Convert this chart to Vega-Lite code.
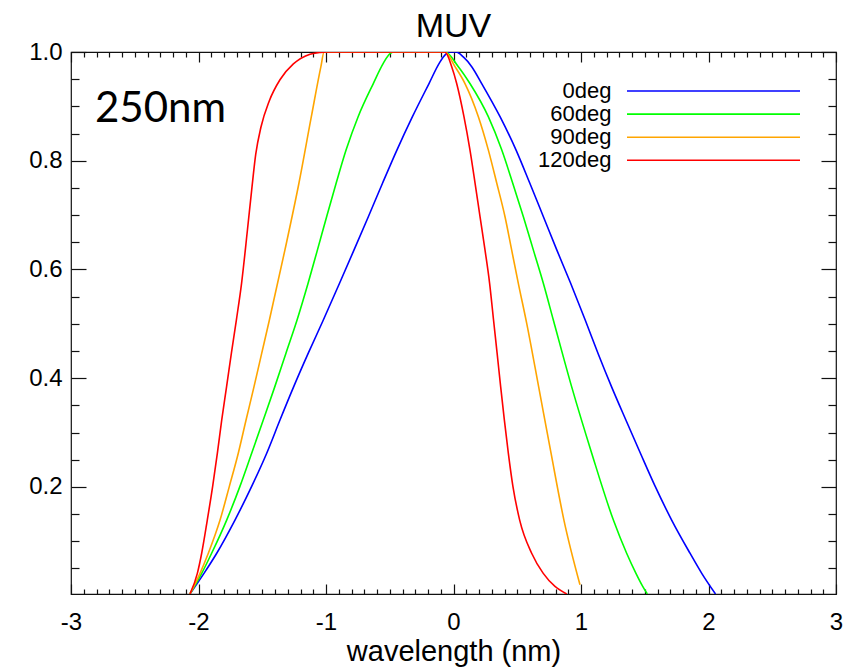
{
  "$schema": "https://vega.github.io/schema/vega-lite/v6.json",
  "width": 765,
  "height": 542,
  "autosize": "none",
  "padding": {"left": 71, "top": 52, "right": 21, "bottom": 73},
  "background": "white",
  "config": {
    "font": "Liberation Sans",
    "view": {"stroke": "#111", "strokeWidth": 1.2},
    "axis": {"grid": false, "domain": false, "tickColor": "#111", "tickWidth": 1.2, "labelColor": "#000", "titleColor": "#000"}
  },
  "title": {"text": "MUV", "fontSize": 34, "font": "Liberation Sans", "fontWeight": "normal", "color": "#000", "anchor": "middle", "offset": -4},
  "data": {"values": [
    {"angle": "0deg", "wl": -2.067, "r": 0.003},
    {"angle": "0deg", "wl": -1.957, "r": 0.041},
    {"angle": "0deg", "wl": -1.857, "r": 0.078},
    {"angle": "0deg", "wl": -1.714, "r": 0.139},
    {"angle": "0deg", "wl": -1.583, "r": 0.201},
    {"angle": "0deg", "wl": -1.465, "r": 0.262},
    {"angle": "0deg", "wl": -1.361, "r": 0.323},
    {"angle": "0deg", "wl": -1.254, "r": 0.384},
    {"angle": "0deg", "wl": -1.139, "r": 0.446},
    {"angle": "0deg", "wl": -1.021, "r": 0.507},
    {"angle": "0deg", "wl": -0.893, "r": 0.575},
    {"angle": "0deg", "wl": -0.780, "r": 0.636},
    {"angle": "0deg", "wl": -0.668, "r": 0.697},
    {"angle": "0deg", "wl": -0.556, "r": 0.759},
    {"angle": "0deg", "wl": -0.443, "r": 0.820},
    {"angle": "0deg", "wl": -0.322, "r": 0.881},
    {"angle": "0deg", "wl": -0.192, "r": 0.942},
    {"angle": "0deg", "wl": -0.110, "r": 0.980},
    {"angle": "0deg", "wl": -0.060, "r": 0.996},
    {"angle": "0deg", "wl": -0.030, "r": 1.0},
    {"angle": "0deg", "wl": 0.020, "r": 1.0},
    {"angle": "0deg", "wl": 0.077, "r": 0.991},
    {"angle": "0deg", "wl": 0.143, "r": 0.973},
    {"angle": "0deg", "wl": 0.221, "r": 0.942},
    {"angle": "0deg", "wl": 0.365, "r": 0.881},
    {"angle": "0deg", "wl": 0.490, "r": 0.820},
    {"angle": "0deg", "wl": 0.598, "r": 0.759},
    {"angle": "0deg", "wl": 0.705, "r": 0.697},
    {"angle": "0deg", "wl": 0.810, "r": 0.636},
    {"angle": "0deg", "wl": 0.918, "r": 0.575},
    {"angle": "0deg", "wl": 1.033, "r": 0.507},
    {"angle": "0deg", "wl": 1.133, "r": 0.446},
    {"angle": "0deg", "wl": 1.240, "r": 0.384},
    {"angle": "0deg", "wl": 1.352, "r": 0.323},
    {"angle": "0deg", "wl": 1.466, "r": 0.262},
    {"angle": "0deg", "wl": 1.582, "r": 0.201},
    {"angle": "0deg", "wl": 1.711, "r": 0.139},
    {"angle": "0deg", "wl": 1.855, "r": 0.078},
    {"angle": "0deg", "wl": 1.947, "r": 0.041},
    {"angle": "0deg", "wl": 2.055, "r": 0.003},
    {"angle": "60deg", "wl": -2.067, "r": 0.003},
    {"angle": "60deg", "wl": -1.975, "r": 0.041},
    {"angle": "60deg", "wl": -1.897, "r": 0.078},
    {"angle": "60deg", "wl": -1.779, "r": 0.139},
    {"angle": "60deg", "wl": -1.675, "r": 0.201},
    {"angle": "60deg", "wl": -1.583, "r": 0.262},
    {"angle": "60deg", "wl": -1.492, "r": 0.323},
    {"angle": "60deg", "wl": -1.402, "r": 0.384},
    {"angle": "60deg", "wl": -1.314, "r": 0.446},
    {"angle": "60deg", "wl": -1.227, "r": 0.507},
    {"angle": "60deg", "wl": -1.140, "r": 0.575},
    {"angle": "60deg", "wl": -1.067, "r": 0.636},
    {"angle": "60deg", "wl": -0.995, "r": 0.697},
    {"angle": "60deg", "wl": -0.920, "r": 0.759},
    {"angle": "60deg", "wl": -0.842, "r": 0.820},
    {"angle": "60deg", "wl": -0.748, "r": 0.881},
    {"angle": "60deg", "wl": -0.629, "r": 0.942},
    {"angle": "60deg", "wl": -0.551, "r": 0.979},
    {"angle": "60deg", "wl": -0.498, "r": 0.997},
    {"angle": "60deg", "wl": -0.460, "r": 1.0},
    {"angle": "60deg", "wl": -0.067, "r": 1.0},
    {"angle": "60deg", "wl": 0.038, "r": 0.973},
    {"angle": "60deg", "wl": 0.129, "r": 0.942},
    {"angle": "60deg", "wl": 0.273, "r": 0.881},
    {"angle": "60deg", "wl": 0.378, "r": 0.820},
    {"angle": "60deg", "wl": 0.464, "r": 0.759},
    {"angle": "60deg", "wl": 0.548, "r": 0.697},
    {"angle": "60deg", "wl": 0.626, "r": 0.636},
    {"angle": "60deg", "wl": 0.704, "r": 0.575},
    {"angle": "60deg", "wl": 0.783, "r": 0.507},
    {"angle": "60deg", "wl": 0.927, "r": 0.384},
    {"angle": "60deg", "wl": 1.084, "r": 0.262},
    {"angle": "60deg", "wl": 1.254, "r": 0.139},
    {"angle": "60deg", "wl": 1.358, "r": 0.078},
    {"angle": "60deg", "wl": 1.431, "r": 0.041},
    {"angle": "60deg", "wl": 1.484, "r": 0.017},
    {"angle": "60deg", "wl": 1.520, "r": 0.003},
    {"angle": "90deg", "wl": -2.067, "r": 0.003},
    {"angle": "90deg", "wl": -1.988, "r": 0.041},
    {"angle": "90deg", "wl": -1.923, "r": 0.078},
    {"angle": "90deg", "wl": -1.831, "r": 0.139},
    {"angle": "90deg", "wl": -1.758, "r": 0.201},
    {"angle": "90deg", "wl": -1.688, "r": 0.262},
    {"angle": "90deg", "wl": -1.627, "r": 0.323},
    {"angle": "90deg", "wl": -1.565, "r": 0.384},
    {"angle": "90deg", "wl": -1.504, "r": 0.446},
    {"angle": "90deg", "wl": -1.444, "r": 0.507},
    {"angle": "90deg", "wl": -1.322, "r": 0.636},
    {"angle": "90deg", "wl": -1.212, "r": 0.759},
    {"angle": "90deg", "wl": -1.115, "r": 0.881},
    {"angle": "90deg", "wl": -1.040, "r": 0.973},
    {"angle": "90deg", "wl": -1.015, "r": 1.0},
    {"angle": "90deg", "wl": -0.067, "r": 1.0},
    {"angle": "90deg", "wl": 0.012, "r": 0.973},
    {"angle": "90deg", "wl": 0.090, "r": 0.942},
    {"angle": "90deg", "wl": 0.195, "r": 0.881},
    {"angle": "90deg", "wl": 0.273, "r": 0.820},
    {"angle": "90deg", "wl": 0.339, "r": 0.759},
    {"angle": "90deg", "wl": 0.404, "r": 0.697},
    {"angle": "90deg", "wl": 0.456, "r": 0.636},
    {"angle": "90deg", "wl": 0.508, "r": 0.575},
    {"angle": "90deg", "wl": 0.575, "r": 0.500},
    {"angle": "90deg", "wl": 0.668, "r": 0.384},
    {"angle": "90deg", "wl": 0.765, "r": 0.262},
    {"angle": "90deg", "wl": 0.866, "r": 0.139},
    {"angle": "90deg", "wl": 0.992, "r": 0.020},
    {"angle": "120deg", "wl": -2.067, "r": 0.003},
    {"angle": "120deg", "wl": -2.009, "r": 0.041},
    {"angle": "120deg", "wl": -1.975, "r": 0.078},
    {"angle": "120deg", "wl": -1.931, "r": 0.139},
    {"angle": "120deg", "wl": -1.889, "r": 0.201},
    {"angle": "120deg", "wl": -1.852, "r": 0.262},
    {"angle": "120deg", "wl": -1.818, "r": 0.323},
    {"angle": "120deg", "wl": -1.780, "r": 0.384},
    {"angle": "120deg", "wl": -1.742, "r": 0.446},
    {"angle": "120deg", "wl": -1.703, "r": 0.507},
    {"angle": "120deg", "wl": -1.662, "r": 0.575},
    {"angle": "120deg", "wl": -1.616, "r": 0.673},
    {"angle": "120deg", "wl": -1.583, "r": 0.746},
    {"angle": "120deg", "wl": -1.551, "r": 0.812},
    {"angle": "120deg", "wl": -1.510, "r": 0.862},
    {"angle": "120deg", "wl": -1.445, "r": 0.910},
    {"angle": "120deg", "wl": -1.361, "r": 0.949},
    {"angle": "120deg", "wl": -1.256, "r": 0.978},
    {"angle": "120deg", "wl": -1.125, "r": 0.996},
    {"angle": "120deg", "wl": -1.050, "r": 0.999},
    {"angle": "120deg", "wl": -1.000, "r": 1.0},
    {"angle": "120deg", "wl": -0.067, "r": 1.0},
    {"angle": "120deg", "wl": -0.014, "r": 0.973},
    {"angle": "120deg", "wl": 0.025, "r": 0.942},
    {"angle": "120deg", "wl": 0.082, "r": 0.881},
    {"angle": "120deg", "wl": 0.129, "r": 0.820},
    {"angle": "120deg", "wl": 0.169, "r": 0.759},
    {"angle": "120deg", "wl": 0.208, "r": 0.697},
    {"angle": "120deg", "wl": 0.247, "r": 0.636},
    {"angle": "120deg", "wl": 0.283, "r": 0.575},
    {"angle": "120deg", "wl": 0.314, "r": 0.507},
    {"angle": "120deg", "wl": 0.342, "r": 0.446},
    {"angle": "120deg", "wl": 0.370, "r": 0.384},
    {"angle": "120deg", "wl": 0.399, "r": 0.323},
    {"angle": "120deg", "wl": 0.430, "r": 0.262},
    {"angle": "120deg", "wl": 0.466, "r": 0.201},
    {"angle": "120deg", "wl": 0.519, "r": 0.139},
    {"angle": "120deg", "wl": 0.613, "r": 0.078},
    {"angle": "120deg", "wl": 0.704, "r": 0.041},
    {"angle": "120deg", "wl": 0.796, "r": 0.017},
    {"angle": "120deg", "wl": 0.888, "r": 0.003}
  ]},
  "resolve": {"axis": {"x": "independent", "y": "independent"}},
  "layer": [
    {
      "mark": {"type": "line", "strokeWidth": 1.6, "clip": true, "interpolate": "monotone"},
      "encoding": {
        "x": {"field": "wl", "type": "quantitative",
          "scale": {"domain": [-3, 3], "nice": false, "zero": false},
          "axis": {"orient": "bottom", "values": [-3, -2, -1, 0, 1, 2, 3], "labelExpr": "'' + datum.value",
            "tickSize": -10, "labelPadding": 26, "labelFontSize": 24, "labelFont": "Liberation Sans",
            "labelFlush": false, "labelOverlap": false,
            "title": "wavelength (nm)", "titleFontSize": 29, "titleFont": "Liberation Sans", "titleFontWeight": "normal", "titlePadding": 3}},
        "y": {"field": "r", "type": "quantitative",
          "scale": {"domain": [0.003, 1.0], "nice": false, "zero": false},
          "axis": {"orient": "left", "values": [0.2, 0.4, 0.6, 0.8, 1.0], "format": ".1f",
            "tickSize": -15, "labelPadding": 24, "labelFontSize": 24, "labelFont": "Liberation Sans",
            "labelFlush": false, "labelOverlap": false, "title": null}},
        "color": {"field": "angle", "type": "nominal",
          "scale": {"domain": ["0deg", "60deg", "90deg", "120deg"], "range": ["#0000ff", "#00ff00", "#ffa500", "#ff0000"]},
          "legend": {"orient": "none", "legendX": 556, "legendY": 28, "title": null, "padding": 0,
            "symbolType": "M-17.3,0H17.3", "symbolSize": 100, "symbolStrokeWidth": 1.6, "symbolOffset": 75.5,
            "labelAlign": "right", "labelOffset": -113, "labelFontSize": 22, "labelFont": "Liberation Sans", "labelColor": "#000", "labelLimit": 400,
            "rowPadding": 1.1}}
      }
    },
    {
      "mark": {"type": "point", "opacity": 0},
      "encoding": {
        "x": {"field": "wl", "type": "quantitative",
          "axis": {"orient": "bottom", "labels": false, "title": null, "tickSize": -5,
            "values": [-2.9,-2.8,-2.7,-2.6,-2.5,-2.4,-2.3,-2.2,-2.1,-1.9,-1.8,-1.7,-1.6,-1.5,-1.4,-1.3,-1.2,-1.1,-0.9,-0.8,-0.7,-0.6,-0.5,-0.4,-0.3,-0.2,-0.1,0.1,0.2,0.3,0.4,0.5,0.6,0.7,0.8,0.9,1.1,1.2,1.3,1.4,1.5,1.6,1.7,1.8,1.9,2.1,2.2,2.3,2.4,2.5,2.6,2.7,2.8,2.9]}},
        "y": {"field": "r", "type": "quantitative",
          "axis": {"orient": "left", "labels": false, "title": null, "tickSize": -8,
            "values": [0.05,0.1,0.15,0.25,0.3,0.35,0.45,0.5,0.55,0.65,0.7,0.75,0.85,0.9,0.95]}}
      }
    },
    {
      "mark": {"type": "point", "opacity": 0},
      "encoding": {
        "x": {"field": "wl", "type": "quantitative",
          "axis": {"orient": "top", "labels": false, "title": null, "tickSize": -10, "values": [-3, -2, -1, 0, 1, 2, 3]}},
        "y": {"field": "r", "type": "quantitative",
          "axis": {"orient": "right", "labels": false, "title": null, "tickSize": -15, "values": [0.2, 0.4, 0.6, 0.8, 1.0]}}
      }
    },
    {
      "mark": {"type": "point", "opacity": 0},
      "encoding": {
        "x": {"field": "wl", "type": "quantitative",
          "axis": {"orient": "top", "labels": false, "title": null, "tickSize": -5,
            "values": [-2.9,-2.8,-2.7,-2.6,-2.5,-2.4,-2.3,-2.2,-2.1,-1.9,-1.8,-1.7,-1.6,-1.5,-1.4,-1.3,-1.2,-1.1,-0.9,-0.8,-0.7,-0.6,-0.5,-0.4,-0.3,-0.2,-0.1,0.1,0.2,0.3,0.4,0.5,0.6,0.7,0.8,0.9,1.1,1.2,1.3,1.4,1.5,1.6,1.7,1.8,1.9,2.1,2.2,2.3,2.4,2.5,2.6,2.7,2.8,2.9]}},
        "y": {"field": "r", "type": "quantitative",
          "axis": {"orient": "right", "labels": false, "title": null, "tickSize": -8,
            "values": [0.05,0.1,0.15,0.25,0.3,0.35,0.45,0.5,0.55,0.65,0.7,0.75,0.85,0.9,0.95]}}
      }
    },
    {
      "data": {"values": [{"label": "250nm"}]},
      "mark": {"type": "text", "font": "Lato", "fontSize": 42, "align": "left", "baseline": "alphabetic", "color": "#000"},
      "encoding": {
        "x": {"datum": -2.812, "type": "quantitative", "axis": null},
        "y": {"datum": 0.871, "type": "quantitative", "axis": null},
        "text": {"field": "label", "type": "nominal"}
      }
    }
  ]
}
